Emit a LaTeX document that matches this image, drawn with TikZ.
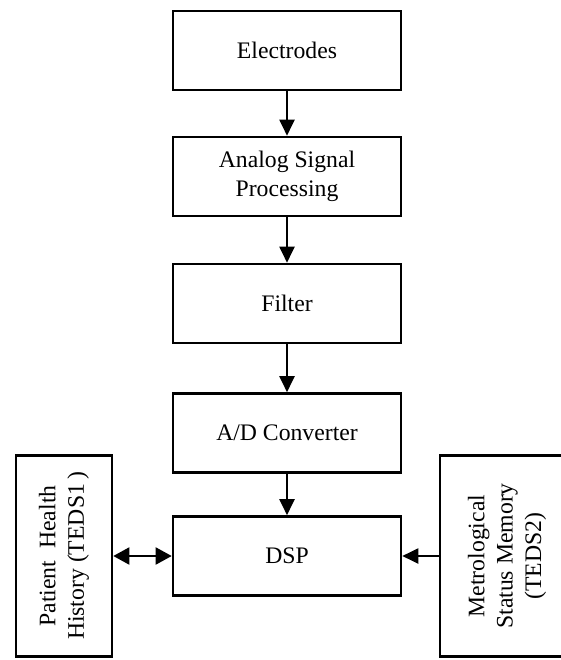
\documentclass[tikz,border=0pt]{standalone}
\usepackage{fontspec}
\setmainfont{Liberation Serif}
\usetikzlibrary{arrows.meta}
\begin{document}
\begin{tikzpicture}[x=1pt,y=-1pt,
  txt/.style={font=\fontsize{23.7}{28.4}\selectfont,text=black},
  box/.style={draw=black,line width=2.6pt,minimum width=228pt,minimum height=79pt,inner sep=0pt,align=center,txt},
  side/.style={draw=black,line width=2.6pt,rotate=90,minimum width=201pt,inner sep=0pt,align=center,txt},
  arr/.style={line width=2pt,-{Triangle[width=15pt,length=16pt]}},
  dbl/.style={line width=2pt,{Triangle[width=17pt,length=16pt]}-{Triangle[width=17pt,length=16pt]}}]
\useasboundingbox[fill=white] (0,0) rectangle (561,660);
\node[box] (el)  at (287,50.5) {Electrodes};
\node[box] (asp) at (287,176.5) {Analog Signal\\Processing};
\node[box] (fil) at (287,303.5) {Filter};
\node[box] (adc) at (287,433) {A/D Converter};
\node[box] (dsp) at (287,556) {DSP};
\node[side,minimum height=96pt] (phh) at (64,556) {Patient\ \ Health\\History (TEDS1\,)};
\node[side,minimum height=134pt] (msm) at (507,556) {Metrological\\Status Memory\\(TEDS2)};
\draw[arr] (el) -- (asp);
\draw[arr] (asp) -- (fil);
\draw[arr] (fil) -- (adc);
\draw[arr] (adc) -- (dsp);
\draw[dbl] (phh) -- (dsp);
\draw[arr] (msm) -- (dsp);
\end{tikzpicture}
\end{document}
